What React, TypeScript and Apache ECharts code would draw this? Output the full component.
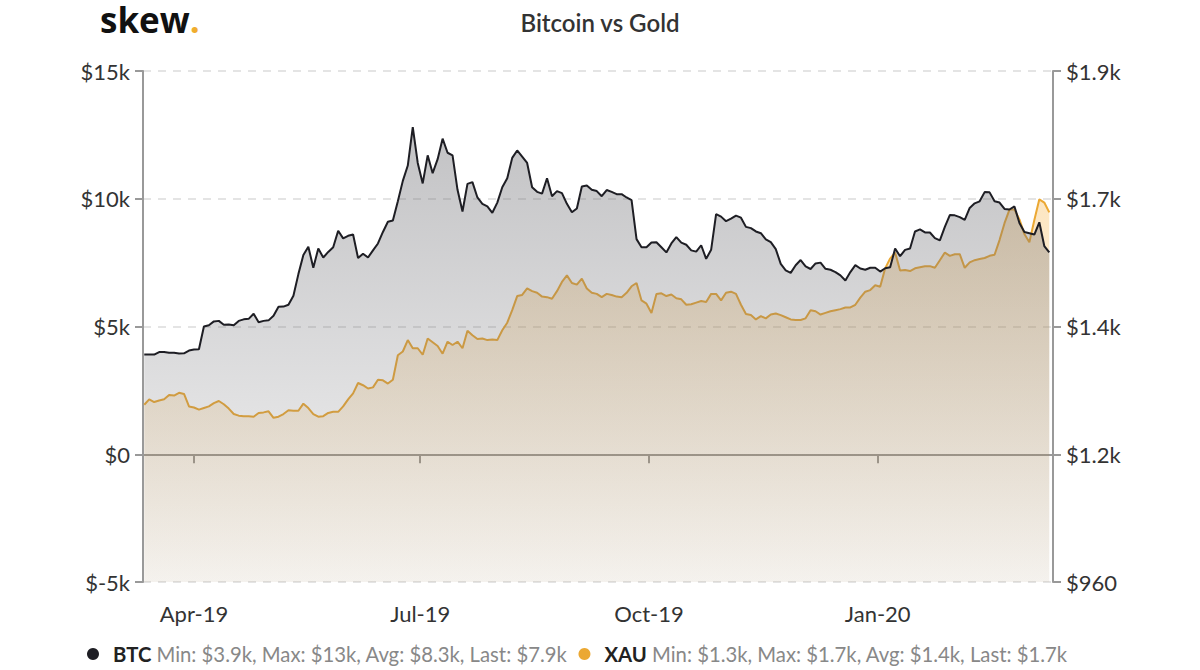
import React, { useEffect, useRef } from "react";
import * as echarts from "echarts";

// ---- data ----
const MONTHS = ["Jan", "Feb", "Mar", "Apr", "May", "Jun", "Jul", "Aug", "Sep", "Oct", "Nov", "Dec"];
const START_YEAR = 2019;
const START_MONTH = 2; // March (0-based)
const START_DAY = 12;
const STEP_DAYS = 2;
const AXIS_START = [2019, 2, 11, 12]; // y, m, d, hour
const AXIS_END = [2020, 2, 11, 12];

// BTC close, USD (every 2 days from 2019-03-12)
const btcValues = [
  3900, 3900, 3900, 4000, 4000, 3970, 3970, 3940, 3950, 4060, 4100, 4110,
  5000, 5050, 5200, 5220, 5070, 5080, 5050, 5220, 5280, 5300, 5500, 5170, 5220, 5240, 5420, 5770, 5780, 5850,
  6200, 7050, 7800, 8120, 7300, 8050, 7700, 7920, 8100, 8750, 8450, 8550, 8600, 7680, 7850, 7700, 7980, 8250,
  8700, 9100, 9150, 9900, 10700, 11300, 12800, 11400, 10600, 11700, 11000, 11550, 12350, 11800, 11700, 10350, 9500, 10580,
  10650, 10050, 9800, 9700, 9450, 9850, 10450, 10800, 11600, 11890, 11650, 11400, 10450, 10270, 10200, 10800, 10100, 10300,
  10220, 9800, 9470, 9620, 10480, 10520, 10350, 10300, 10100, 10340, 10270, 10180, 10180, 10050, 9950, 8420, 8100, 8100,
  8290, 8300, 8100, 7900, 8250, 8500, 8280, 8200, 7980, 7930, 8180, 7650, 8000, 9400, 9300, 9120, 9220, 9340,
  9260, 8900, 8850, 8720, 8650, 8410, 8300, 8030, 7450, 7200, 7100, 7400, 7600, 7350, 7250, 7470, 7500, 7260,
  7220, 7130, 7000, 6800, 7130, 7400, 7270, 7220, 7300, 7300, 7150, 7280, 7320, 8050, 7750, 8000, 8050, 8720,
  8800, 8680, 8680, 8460, 8370, 8900, 9360, 9350, 9280, 9170, 9640, 9820, 9900, 10260, 10250, 9900, 9850, 9600,
  9580, 9700, 9050, 8700, 8650, 8600, 9080, 8150, 7900,
];

// Gold (XAU) price, USD (same dates)
const xauValues = [
  1286, 1296, 1291, 1294, 1296, 1304, 1303, 1308, 1306, 1283, 1281, 1277,
  1280, 1283, 1289, 1293, 1287, 1279, 1269, 1266, 1265, 1265, 1264, 1271, 1272, 1274, 1262, 1264, 1269, 1276,
  1275, 1275, 1288, 1280, 1269, 1264, 1265, 1271, 1273, 1273, 1283, 1296, 1307, 1326, 1322, 1316, 1318, 1332,
  1331, 1325, 1332, 1377, 1384, 1405, 1390, 1390, 1378, 1408, 1401, 1394, 1380, 1402, 1396, 1402, 1390, 1422,
  1414, 1407, 1408, 1405, 1406, 1405, 1423, 1437, 1460, 1486, 1488, 1500, 1495, 1492, 1485, 1484, 1481, 1495,
  1512, 1524, 1510, 1507, 1518, 1500, 1492, 1490, 1484, 1490, 1488, 1485, 1484, 1492, 1504, 1510, 1478, 1472,
  1455, 1490, 1491, 1486, 1489, 1482, 1480, 1470, 1471, 1474, 1477, 1475, 1490, 1490, 1478, 1492, 1494, 1490,
  1470, 1453, 1451, 1443, 1449, 1445, 1452, 1454, 1451, 1447, 1443, 1442, 1442, 1445, 1460, 1458, 1452, 1455,
  1458, 1460, 1462, 1465, 1465, 1470, 1483, 1494, 1497, 1506, 1503, 1537, 1555, 1566, 1533, 1534, 1532, 1537,
  1539, 1541, 1541, 1538, 1552, 1566, 1560, 1563, 1563, 1538, 1548, 1552, 1554, 1556, 1560, 1562, 1589, 1620,
  1645, 1645, 1627, 1600, 1585, 1626, 1664, 1658, 1640,
];

const seriesNames = ["BTC", "XAU"];
const legendStats: Record<string, string> = {
  BTC: "Min: $3.9k, Max: $13k, Avg: $8.3k, Last: $7.9k",
  XAU: "Min: $1.3k, Max: $1.7k, Avg: $1.4k, Last: $1.7k",
};

const btcAxis = { min: -5000, max: 15000, interval: 5000 };
const xauAxis = { min: 960, max: 1900, interval: 235 };

const FONT = "Lato";
const DAY = 86400000;

function dateAt(i: number): number {
  return new Date(START_YEAR, START_MONTH, START_DAY + i * STEP_DAYS).getTime();
}

function fmtK(v: number): string {
  if (v === 0) return "$0";
  if (Math.abs(v) >= 1000) {
    const k = v / 1000;
    const s = Number.isInteger(k) ? String(k) : k.toFixed(1);
    return "$" + s + "k";
  }
  return "$" + v;
}

export default function App() {
  const ref = useRef<HTMLDivElement>(null);

  useEffect(() => {
    if (!ref.current) return;
    const chart = echarts.init(ref.current, null, { renderer: "svg" });

    const btcData = btcValues.map((v, i) => [dateAt(i), v]);
    const xauData = xauValues.map((v, i) => [dateAt(i), v]);

    const option: any = {
      animation: false,
      color: ["#1e1e24", "#eba833"],
      title: {
        text: "Bitcoin vs Gold",
        left: "center",
        top: 5,
        textStyle: { fontFamily: FONT, fontSize: 24, fontWeight: 600, color: "#333" },
      },
      graphic: [
        {
          type: "text",
          left: 100,
          top: 2,
          style: {
            text: "{a|skew}{b|.}",
            rich: {
              a: { fontFamily: "Open Sans", fontWeight: "bold", fontSize: 35, lineHeight: 34, fill: "#111" },
              b: { fontFamily: "Open Sans", fontWeight: "bold", fontSize: 35, lineHeight: 34, fill: "#f0ad2e" },
            },
          },
        },
      ],
      legend: {
        data: seriesNames,
        left: 82,
        top: 639,
        icon: "circle",
        itemWidth: 12,
        itemHeight: 12,
        itemGap: 11,
        selectedMode: false,
        formatter: (name: string) => `{sp|}{n|${name}} {v|${legendStats[name]}}`,
        textStyle: {
          fontFamily: FONT,
          fontSize: 20.3,
          rich: {
            sp: { width: 9 },
            n: { fontFamily: FONT, fontSize: 20.3, fontWeight: "bold", color: "#222" },
            v: { fontFamily: FONT, fontSize: 20.3, color: "#888" },
          },
        },
      },
      grid: { left: 143, right: 147, top: 71, bottom: 88, containLabel: false, outerBoundsMode: "none" },
      xAxis: {
        type: "time",
        min: new Date(AXIS_START[0], AXIS_START[1], AXIS_START[2], AXIS_START[3]).getTime(),
        max: new Date(AXIS_END[0], AXIS_END[1], AXIS_END[2], AXIS_END[3]).getTime(),
        minInterval: 88 * DAY,
        maxInterval: 100 * DAY,
        splitNumber: 4,
        axisLine: { show: true, lineStyle: { color: "#999", width: 2 } },
        axisTick: { show: true, length: 9, lineStyle: { color: "#999", width: 2 } },
        axisLabel: {
          fontFamily: FONT,
          fontSize: 22,
          color: "#333",
          margin: 20,
          hideOverlap: false,
          formatter: (value: number) => {
            const d = new Date(value);
            if (d.getDate() !== 1 || d.getHours() !== 0 || d.getMonth() % 3 !== 0) return "";
            return MONTHS[d.getMonth()] + "-" + String(d.getFullYear()).slice(2);
          },
        },
        splitLine: { show: false },
      },
      yAxis: [
        {
          type: "value",
          position: "left",
          min: btcAxis.min,
          max: btcAxis.max,
          interval: btcAxis.interval,
          axisLine: { show: true, lineStyle: { color: "#999", width: 2 } },
          axisTick: { show: true, length: 8, lineStyle: { color: "#999", width: 2 } },
          axisLabel: { fontFamily: FONT, fontSize: 22, color: "#333", margin: 13, formatter: fmtK },
          splitLine: { show: true, lineStyle: { color: "#e4e4e4", width: 2, type: [8, 7] } },
        },
        {
          type: "value",
          position: "right",
          min: xauAxis.min,
          max: xauAxis.max,
          interval: xauAxis.interval,
          axisLine: { show: true, lineStyle: { color: "#999", width: 2 } },
          axisTick: { show: true, length: 8, lineStyle: { color: "#999", width: 2 } },
          axisLabel: { fontFamily: FONT, fontSize: 22, color: "#333", margin: 13, formatter: fmtK },
          splitLine: { show: false },
        },
      ],
      series: [
        {
          name: "XAU",
          type: "line",
          yAxisIndex: 1,
          z: 1,
          data: xauData,
          showSymbol: false,
          symbol: "none",
          itemStyle: { color: "#eba833" },
          lineStyle: { color: "#eba833", width: 2 },
          areaStyle: {
            origin: "start",
            opacity: 1,
            color: new echarts.graphic.LinearGradient(0, 0, 0, 1, [
              { offset: 0, color: "rgba(245,170,50,0.30)" },
              { offset: 1, color: "rgba(245,170,50,0.04)" },
            ]),
          },
          emphasis: { disabled: true },
        },
        {
          name: "BTC",
          type: "line",
          yAxisIndex: 0,
          z: 2,
          data: btcData,
          showSymbol: false,
          symbol: "none",
          itemStyle: { color: "#1e1e24" },
          lineStyle: { color: "#1e1e24", width: 2 },
          areaStyle: {
            origin: "start",
            opacity: 1,
            color: new echarts.graphic.LinearGradient(0, 0, 0, 1, [
              { offset: 0, color: "rgba(110,110,115,0.42)" },
              { offset: 1, color: "rgba(110,110,115,0.07)" },
            ]),
          },
          emphasis: { disabled: true },
        },
      ],
    };

    chart.setOption(option);
    return () => chart.dispose();
  }, []);

  return (
    <div
      ref={ref}
      style={{ position: "absolute", left: 0, top: 0, width: 1200, height: 670 }}
    />
  );
}
